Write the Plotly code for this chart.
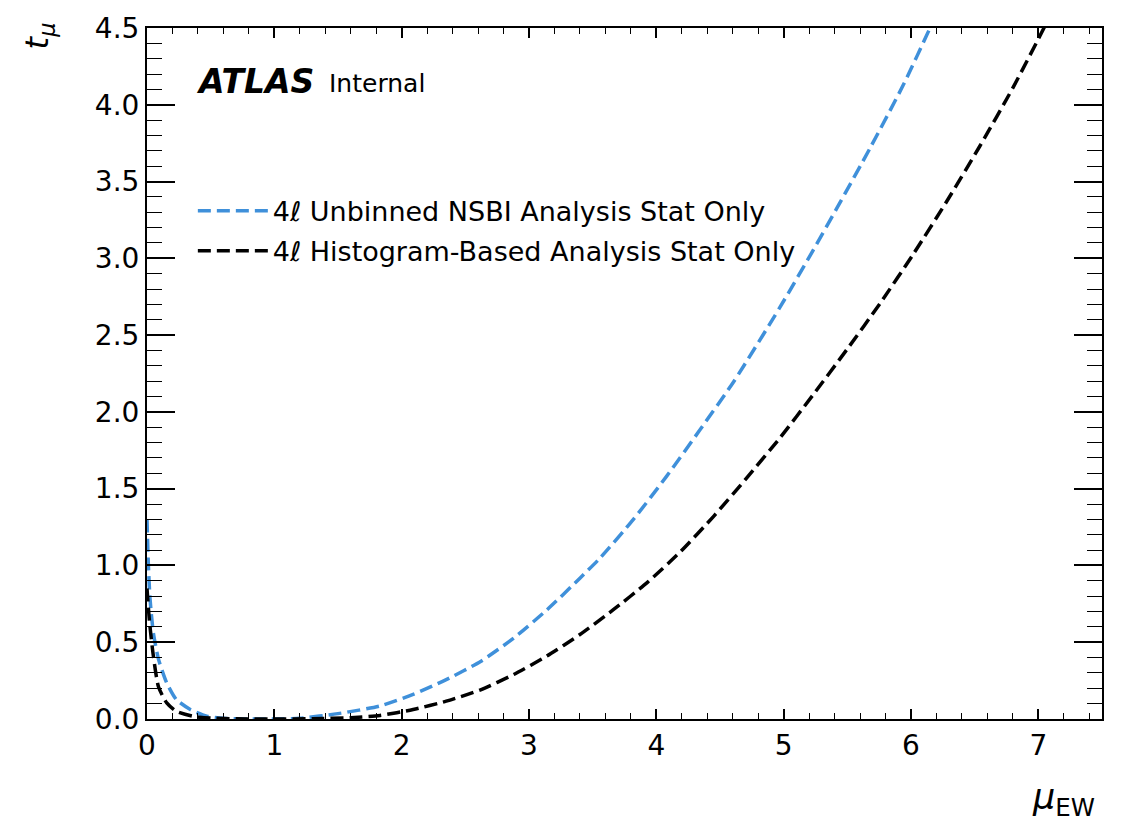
import plotly.graph_objects as go

# NSBI (blue) curve
mu_nsbi = [0.0, 0.01, 0.024, 0.05, 0.09, 0.155, 0.23, 0.34, 0.47, 0.62, 0.8, 1.0, 1.2, 1.5,
           1.83, 2.09, 2.35, 2.62, 2.88, 3.14, 3.40, 3.56, 3.82, 4.08, 4.34, 4.61, 4.97,
           5.23, 5.42, 5.68, 5.94, 6.16, 6.2]
t_nsbi = [1.3, 1.02, 0.78, 0.56, 0.39, 0.235, 0.127, 0.062, 0.018, 0.004, 0.0, 0.0, 0.005, 0.035,
          0.085, 0.16, 0.256, 0.375, 0.527, 0.71, 0.917, 1.05, 1.30, 1.58, 1.88, 2.2, 2.68,
          3.05, 3.33, 3.72, 4.13, 4.52, 4.6]

# Histogram-based (black) curve
mu_hist = [0.0, 0.02, 0.05, 0.09, 0.155, 0.23, 0.36, 0.5, 0.7, 1.0, 1.3, 1.6, 1.83, 2.09,
           2.35, 2.62, 2.88, 3.14, 3.40, 3.66, 3.93, 4.19, 4.45, 4.71, 4.97, 5.23,
           5.50, 5.76, 6.02, 6.28, 6.54, 6.80, 7.05, 7.1]
t_hist = [0.85, 0.63, 0.41, 0.21, 0.105, 0.05, 0.018, 0.006, 0.001, 0.0, 0.002, 0.008, 0.023, 0.062,
          0.116, 0.19, 0.29, 0.41, 0.55, 0.71, 0.89, 1.09, 1.32, 1.57, 1.83, 2.11,
          2.41, 2.71, 3.03, 3.37, 3.73, 4.11, 4.51, 4.6]

labels = ["4ℓ Unbinned NSBI Analysis Stat Only", "4ℓ Histogram-Based Analysis Stat Only"]
colors = ["#3f90da", "#000000"]

FONT = "DejaVu Sans"

fig = go.Figure()
fig.add_trace(go.Scatter(x=mu_nsbi, y=t_nsbi, mode="lines", name=labels[0],
                         line=dict(color=colors[0], width=3.5, dash="13px,6px", shape="spline", smoothing=0.6),
                         legend="legend"))
fig.add_trace(go.Scatter(x=mu_hist, y=t_hist, mode="lines", name=labels[1],
                         line=dict(color=colors[1], width=3.5, dash="13px,6px", shape="spline", smoothing=0.6),
                         legend="legend2"))

axis_common = dict(showline=True, linecolor="black", linewidth=2, mirror="ticks",
                   ticks="inside", tickcolor="black", showgrid=False, zeroline=False,
                   tickfont=dict(family=FONT, size=28, color="black"))

leg_common = dict(xanchor="left", yanchor="middle", bgcolor="rgba(0,0,0,0)",
                  font=dict(family=FONT, size=27, color="black"), itemwidth=70)

fig.update_layout(
    width=1122, height=822,
    margin=dict(l=147, r=20, t=22, b=103),
    paper_bgcolor="white", plot_bgcolor="white",
    font=dict(family=FONT, color="black"),
    xaxis=dict(range=[0, 7.5], dtick=1, tick0=0, ticklen=10, tickwidth=1.5,
               minor=dict(ticks="inside", dtick=0.2, tick0=0, ticklen=6, tickcolor="black", tickwidth=1.2, showgrid=False),
               **axis_common),
    yaxis=dict(range=[0, 4.5], dtick=0.5, tick0=0, tickformat=".1f", ticklen=28, tickwidth=1.5,
               minor=dict(ticks="inside", dtick=0.1, tick0=0, ticklen=15, tickcolor="black", tickwidth=1.2, showgrid=False),
               **axis_common),
    legend=dict(x=0.048, y=0.735, **leg_common),
    legend2=dict(x=0.048, y=0.677, **leg_common),
    showlegend=True,
)

fig.add_annotation(xref="paper", yref="paper", x=0.049, y=0.9225, xanchor="left", yanchor="middle",
                   text="<b><i>ATLAS</i></b>", showarrow=False, font=dict(family=FONT, size=33, color="black"))
fig.add_annotation(xref="paper", yref="paper", x=0.189, y=0.920, xanchor="left", yanchor="middle",
                   text="Internal", showarrow=False, font=dict(family=FONT, size=25, color="black"))
fig.add_annotation(xref="paper", yref="paper", x=-0.113, y=0.988, xanchor="center", yanchor="middle",
                   text="<i>t</i><sub><i>μ</i></sub>", textangle=-90, showarrow=False,
                   font=dict(family=FONT, size=32, color="black"))
fig.add_annotation(xref="paper", yref="paper", x=0.995, y=-0.116, xanchor="right", yanchor="middle",
                   text="<i>μ</i><sub>EW</sub>", showarrow=False,
                   font=dict(family=FONT, size=35, color="black"))

fig.write_html("out.html")
